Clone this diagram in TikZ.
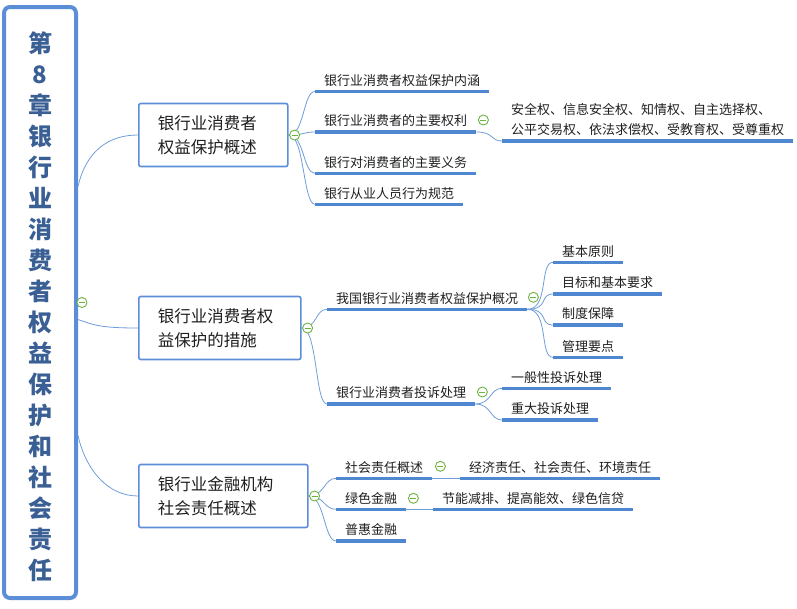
\documentclass[tikz,border=0pt]{standalone}
\usepackage{fontspec}
\setmainfont{Noto Sans CJK SC}
\usepackage{tikz}
\definecolor{borde}{HTML}{5B8ED7}
\definecolor{titulo}{HTML}{3A5F94}
\definecolor{linea}{HTML}{4F87D0}
\definecolor{curvita}{HTML}{6E9DDA}
\definecolor{verde}{HTML}{6DB33F}
\definecolor{texto}{HTML}{1F1F1F}
\tikzset{
  raiz/.style={draw=borde, line width=4pt, rounded corners=6pt, fill=white,
    minimum width=72pt, minimum height=591pt, inner sep=0pt, align=center,
    text=titulo, font=\fontsize{24}{31}\selectfont\bfseries},
  caja/.style={draw=borde, line width=1.6pt, rounded corners=2pt, anchor=west,
    align=left, inner xsep=19pt, minimum height=63pt, text=texto,
    font=\fontsize{16.5}{24}\selectfont},
  ramo/.style={anchor=south west, inner xsep=9pt, inner ysep=5pt, align=left,
    text=texto, font=\fontsize{13}{20}\selectfont},
  subraya/.style={draw=linea, line width=3.5pt},
  curva/.style={draw=curvita, line width=0.8pt},
  menos/.style={circle, draw=verde, fill=white, line width=0.9pt,
    minimum size=10pt, inner sep=0pt,
    path picture={\draw[verde, line width=0.9pt]
      ([xshift=-3pt]path picture bounding box.center) --
      ([xshift=3pt]path picture bounding box.center);}}
}
\newcommand{\rama}[3]{
  \node[ramo] (#1) at (#2) {#3};
  \draw[subraya] (#1.south west) -- (#1.south east);
}
\newcommand{\menos}[2]{
  \node[menos] (#1) at (#2) {};
}

\begin{document}
\begin{tikzpicture}[x=1pt,y=-1pt]
  \useasboundingbox (0,0) rectangle (797,608);
  \node[raiz] (raiz) at (40,302.5)
    {\rule{0pt}{29pt}第\\8\\章\\银\\行\\业\\消\\费\\者\\权\\益\\保\\护\\和\\社\\会\\责\\任};
  \node[caja, text width=111pt] (cajaa) at (138,135) {银行业消费者\\权益保护概述};
  \node[caja, text width=124pt] (cajab) at (138,328) {银行业消费者权\\益保护的措施};
  \node[caja, text width=131pt] (cajac) at (138,496) {银行业金融机构\\社会责任概述};

  \rama{aa}{315,91.5}{银行业消费者权益保护内涵}
  \rama{ab}{315,132}{银行业消费者的主要权利}
  \rama{ac}{315,173.3}{银行对消费者的主要义务}
  \rama{ad}{315,204.3}{银行从业人员行为规范}
  \rama{aba}{502,141}{安全权、信息安全权、知情权、自主选择权、\\公平交易权、依法求偿权、受教育权、受尊重权}

  \rama{ba}{327,309.3}{我国银行业消费者权益保护概况}
  \rama{bb}{327,404}{银行业消费者投诉处理}
  \rama{baa}{553,262.3}{基本原则}
  \rama{bab}{553,294}{目标和基本要求}
  \rama{bac}{553,325}{制度保障}
  \rama{bad}{553,357.3}{管理要点}
  \rama{bba}{502,388.3}{一般性投诉处理}
  \rama{bbb}{502,420}{重大投诉处理}

  \rama{ca}{336,478.3}{社会责任概述}
  \rama{cb}{336,509.3}{绿色金融}
  \rama{cc}{336,541}{普惠金融}
  \rama{caa}{460,478.3}{经济责任、社会责任、环境责任}
  \rama{cba}{433,509.3}{节能减排、提高能效、绿色信贷}

  \draw[curva] ([yshift=116pt]raiz.east) .. controls +(8,-35) and +(-30,0) .. (cajaa.west);
  \draw[curva] ([yshift=-17pt]raiz.east) .. controls +(15,5) and +(-40,0) .. (cajab.west);
  \draw[curva] ([yshift=-133pt]raiz.east) .. controls +(8,35) and +(-30,0) .. (cajac.west);

  \draw[curva] (cajaa.east) .. controls +(16,0) and +(-12,0) .. (aa.south west);
  \draw[curva] (cajaa.east) .. controls +(16,0) and +(-12,0) .. (ab.south west);
  \draw[curva] (cajaa.east) .. controls +(16,0) and +(-12,0) .. (ac.south west);
  \draw[curva] (cajaa.east) .. controls +(16,0) and +(-12,0) .. (ad.south west);
  \draw[curva] (ab.south east) .. controls +(18,0) and +(-12,0) .. (aba.south west);

  \draw[curva] (cajab.east) .. controls +(16,0) and +(-12,0) .. (ba.south west);
  \draw[curva] (cajab.east) .. controls +(16,0) and +(-12,0) .. (bb.south west);
  \draw[curva] (ba.south east) .. controls +(22,0) and +(-14,0) .. (baa.south west);
  \draw[curva] (ba.south east) .. controls +(22,0) and +(-14,0) .. (bab.south west);
  \draw[curva] (ba.south east) .. controls +(22,0) and +(-14,0) .. (bac.south west);
  \draw[curva] (ba.south east) .. controls +(22,0) and +(-14,0) .. (bad.south west);
  \draw[curva] (bb.south east) .. controls +(16,0) and +(-12,0) .. (bba.south west);
  \draw[curva] (bb.south east) .. controls +(16,0) and +(-12,0) .. (bbb.south west);

  \draw[curva] (cajac.east) .. controls +(16,0) and +(-12,0) .. (ca.south west);
  \draw[curva] (cajac.east) .. controls +(16,0) and +(-12,0) .. (cb.south west);
  \draw[curva] (cajac.east) .. controls +(16,0) and +(-12,0) .. (cc.south west);
  \draw[curva] (ca.south east) -- (caa.south west);
  \draw[curva] (cb.south east) -- (cba.south west);

  \menos{ma}{[xshift=4pt]raiz.east}
  \menos{mb}{[xshift=6pt]cajaa.east}
  \menos{mc}{[xshift=6pt]cajab.east}
  \menos{md}{[xshift=6pt]cajac.east}
  \menos{me}{[xshift=7pt,yshift=12pt]ab.south east}
  \menos{mf}{[xshift=6pt,yshift=12pt]ba.south east}
  \menos{mg}{[xshift=7pt,yshift=12pt]bb.south east}
  \menos{mh}{[xshift=8pt,yshift=12pt]ca.south east}
  \menos{mi}{[xshift=7pt,yshift=11pt]cb.south east}
\end{tikzpicture}
\end{document}
